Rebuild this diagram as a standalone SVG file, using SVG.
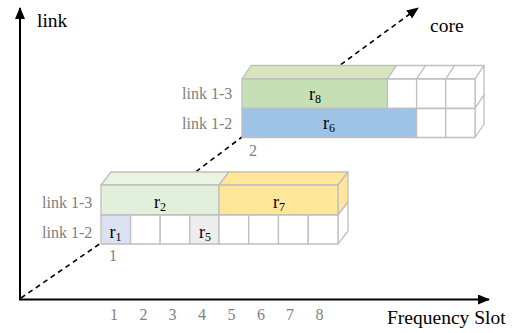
<svg xmlns="http://www.w3.org/2000/svg" width="519" height="333" viewBox="0 0 519 333">
<style>
.c{stroke:#BFBFBF;stroke-width:1.3;stroke-linejoin:round}
.w{fill:#FFFFFF}
.lbl{font-family:"Liberation Serif","Times New Roman",serif;font-size:16px;fill:#808080}
.ax{font-family:"Liberation Serif","Times New Roman",serif;font-size:19.5px;fill:#000}
.r{font-family:"Liberation Serif","Times New Roman",serif;font-size:18px;fill:#000;text-anchor:middle}
.s{font-size:12px}
.n{font-family:"Liberation Serif","Times New Roman",serif;font-size:16px;fill:#808080;text-anchor:middle}
</style>
<defs>
<marker id="ah2" viewBox="0 0 12 10" refX="11" refY="5" markerWidth="12" markerHeight="10" markerUnits="userSpaceOnUse" orient="auto">
<path d="M0,0 L12,5 L0,10 z" fill="#000"/>
</marker>
</defs>
<g id="connectors">
<line x1="20" y1="299.5" x2="20" y2="8" stroke="#000" stroke-width="2" marker-end="url(#ah2)"/>
<line x1="19" y1="299.5" x2="489" y2="299.5" stroke="#000" stroke-width="2" marker-end="url(#ah2)"/>
<polyline points="21,298 101,243 242,137 418,8" fill="none" stroke="#000" stroke-width="1.6" stroke-dasharray="5,4" marker-end="url(#ah2)"/>
</g>
<g id="axis-labels">
<text class="ax" x="37" y="27">link</text>
<text class="ax" x="430" y="32">core</text>
<text class="ax" x="387" y="323.5">Frequency Slot</text>
<text class="n" x="114" y="320">1</text>
<text class="n" x="143.5" y="320">2</text>
<text class="n" x="172.5" y="320">3</text>
<text class="n" x="202" y="320">4</text>
<text class="n" x="231.5" y="320">5</text>
<text class="n" x="261" y="320">6</text>
<text class="n" x="290" y="320">7</text>
<text class="n" x="319.5" y="320">8</text>
</g>
<g id="core1">
<polygon class="c" points="101,185 111,172 229,172 219,185" fill="#EBF3E3"/>
<polygon class="c" points="219,185 229,172 348,172 338,185" fill="#FFE699"/>
<polygon class="c" points="338,185 348,172 348,202 338,215" fill="#FFE699"/>
<polygon class="c w" points="338,215 348,202 348,231 338,244"/>
<rect class="c" x="101" y="185" width="118" height="30" fill="#E2EFDA"/>
<rect class="c" x="219" y="185" width="119" height="30" fill="#FFE699"/>
<rect class="c" x="101" y="215" width="29.6" height="29" fill="#D9E1F2"/>
<rect class="c w" x="130.6" y="215" width="29.6" height="29"/>
<rect class="c w" x="160.2" y="215" width="29.6" height="29"/>
<rect class="c" x="189.8" y="215" width="29.2" height="29" fill="#EDEDED"/>
<rect class="c w" x="219" y="215" width="29.75" height="29"/>
<rect class="c w" x="248.75" y="215" width="29.75" height="29"/>
<rect class="c w" x="278.5" y="215" width="29.75" height="29"/>
<rect class="c w" x="308.25" y="215" width="29.75" height="29"/>
<text class="r" x="160" y="208">r<tspan class="s" dy="3">2</tspan></text>
<text class="r" x="279" y="208">r<tspan class="s" dy="3">7</tspan></text>
<text class="r" x="115.5" y="238">r<tspan class="s" dy="3">1</tspan></text>
<text class="r" x="205" y="238">r<tspan class="s" dy="3">5</tspan></text>
<text class="lbl" x="42" y="208">link 1-3</text>
<text class="lbl" x="42" y="238">link 1-2</text>
<text class="n" x="113" y="261">1</text>
</g>
<g id="core2">
<polygon class="c" points="242,79 251,65.5 396.5,65.5 387.5,79" fill="#D8E4BC"/>
<polygon class="c w" points="387.5,79 396.5,65.5 425.6,65.5 416.6,79"/>
<polygon class="c w" points="416.6,79 425.6,65.5 454.7,65.5 445.7,79"/>
<polygon class="c w" points="445.7,79 454.7,65.5 484,65.5 475,79"/>
<polygon class="c w" points="475,79 484,65.5 484,95 475,108.5"/>
<polygon class="c w" points="475,108.5 484,95 484,124 475,137.5"/>
<rect class="c" x="242" y="79" width="145.5" height="29.5" fill="#C5E0B4"/>
<rect class="c w" x="387.5" y="79" width="29.1" height="29.5"/>
<rect class="c w" x="416.6" y="79" width="29.1" height="29.5"/>
<rect class="c w" x="445.7" y="79" width="29.3" height="29.5"/>
<rect class="c" x="242" y="108.5" width="174.6" height="29" fill="#9DC3E6"/>
<rect class="c w" x="416.6" y="108.5" width="29.1" height="29"/>
<rect class="c w" x="445.7" y="108.5" width="29.3" height="29"/>
<text class="r" x="315" y="100">r<tspan class="s" dy="3">8</tspan></text>
<text class="r" x="329" y="129">r<tspan class="s" dy="3">6</tspan></text>
<text class="lbl" x="182" y="99">link 1-3</text>
<text class="lbl" x="182" y="129">link 1-2</text>
<text class="n" x="253" y="156">2</text>
</g>
</svg>
